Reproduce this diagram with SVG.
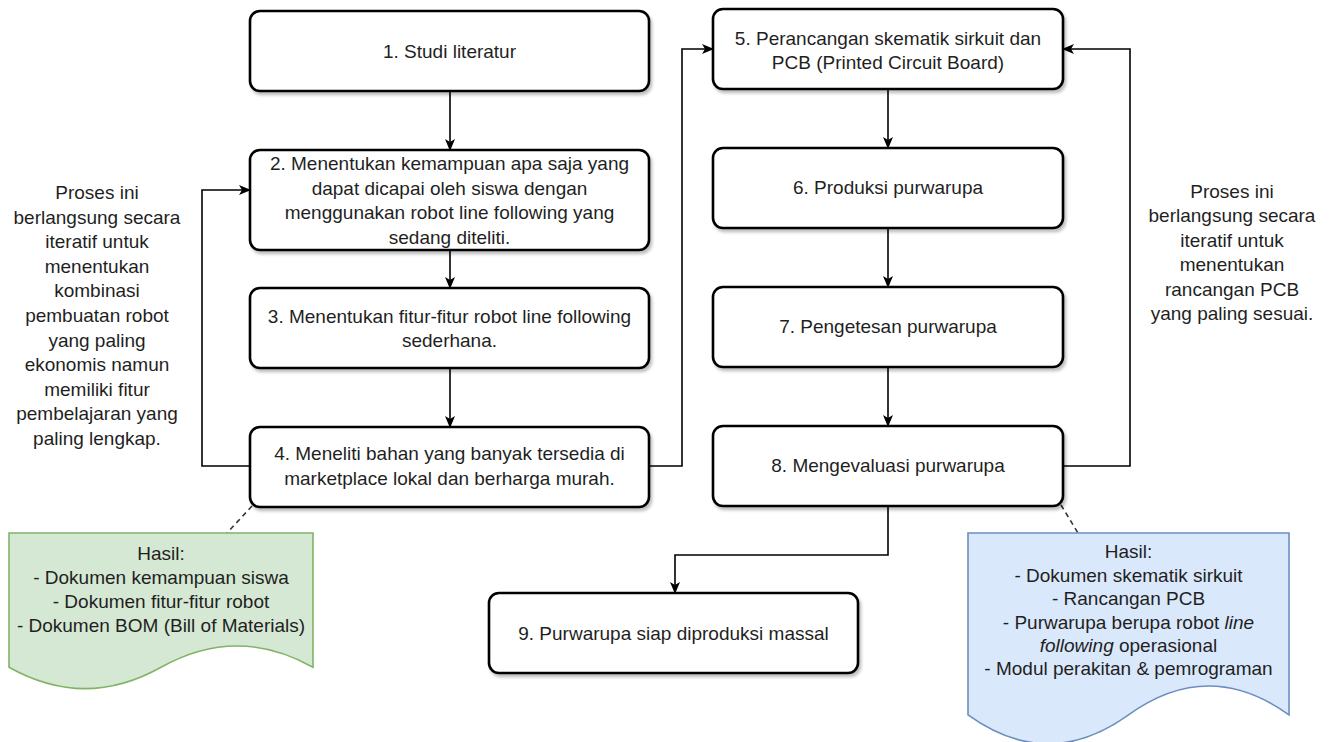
<svg xmlns="http://www.w3.org/2000/svg" width="1330" height="742" viewBox="0 0 1330 742">
<style>
.box{fill:#fff;stroke:#000;stroke-width:2.6}
.t{font-family:"Liberation Sans",Arial,sans-serif;font-size:19px;fill:#1f1f1f;text-anchor:middle}
.e{fill:none;stroke:#000;stroke-width:1.6}
.d{fill:none;stroke:#333;stroke-width:1.6;stroke-dasharray:5,4}
</style>
<defs>
<marker id="ar" viewBox="0 0 12 10" refX="11" refY="5" markerWidth="12" markerHeight="10" markerUnits="userSpaceOnUse" orient="auto">
<path d="M0,0 L12,5 L0,10 L3,5 z" fill="#000"/>
</marker>
<filter id="sh" x="-5%" y="-5%" width="115%" height="125%">
<feDropShadow dx="2" dy="3" stdDeviation="1.5" flood-color="#000" flood-opacity="0.25"/>
</filter>
</defs>
<rect width="1330" height="742" fill="#fff"/>

<g id="connectors">
<path class="e" d="M450,91 L450,150" marker-end="url(#ar)"/>
<path class="e" d="M450,250 L450,288" marker-end="url(#ar)"/>
<path class="e" d="M450,368 L450,427" marker-end="url(#ar)"/>
<path class="e" d="M250,466 L202,466 L202,190 L250,190" marker-end="url(#ar)"/>
<path class="e" d="M650,466 L682,466 L682,49 L713,49" marker-end="url(#ar)"/>
<path class="e" d="M888,89 L888,148" marker-end="url(#ar)"/>
<path class="e" d="M888,228 L888,287" marker-end="url(#ar)"/>
<path class="e" d="M888,367 L888,426" marker-end="url(#ar)"/>
<path class="e" d="M1063,466 L1130,466 L1130,49 L1063,49" marker-end="url(#ar)"/>
<path class="e" d="M888,506 L888,555 L675,555 L675,593" marker-end="url(#ar)"/>
<path class="d" d="M252,506 L227,533"/>
<path class="d" d="M1061,505 L1078,533"/>
</g>

<g id="n1"><rect class="box" filter="url(#sh)" x="250" y="11" width="399" height="80" rx="10"/>
<text class="t" x="449.5" y="58">1. Studi literatur</text></g>

<g id="n2"><rect class="box" filter="url(#sh)" x="250" y="150" width="399" height="100" rx="10"/>
<text class="t" x="449.5" y="170">2. Menentukan kemampuan apa saja yang</text>
<text class="t" x="449.5" y="195">dapat dicapai oleh siswa dengan</text>
<text class="t" x="449.5" y="219">menggunakan robot line following yang</text>
<text class="t" x="449.5" y="244">sedang diteliti.</text></g>

<g id="n3"><rect class="box" filter="url(#sh)" x="250" y="288" width="399" height="80" rx="10"/>
<text class="t" x="449.5" y="323">3. Menentukan fitur-fitur robot line following</text>
<text class="t" x="449.5" y="347">sederhana.</text></g>

<g id="n4"><rect class="box" filter="url(#sh)" x="250" y="427" width="399" height="80" rx="10"/>
<text class="t" x="449.5" y="460">4. Meneliti bahan yang banyak tersedia di</text>
<text class="t" x="449.5" y="485">marketplace lokal dan berharga murah.</text></g>

<g id="n5"><rect class="box" filter="url(#sh)" x="713" y="9" width="350" height="80" rx="10"/>
<text class="t" x="888" y="45">5. Perancangan skematik sirkuit dan</text>
<text class="t" x="888" y="69">PCB (Printed Circuit Board)</text></g>

<g id="n6"><rect class="box" filter="url(#sh)" x="713" y="148" width="350" height="80" rx="10"/>
<text class="t" x="888" y="194">6. Produksi purwarupa</text></g>

<g id="n7"><rect class="box" filter="url(#sh)" x="713" y="287" width="350" height="80" rx="10"/>
<text class="t" x="888" y="333">7. Pengetesan purwarupa</text></g>

<g id="n8"><rect class="box" filter="url(#sh)" x="713" y="426" width="350" height="80" rx="10"/>
<text class="t" x="888" y="472">8. Mengevaluasi purwarupa</text></g>

<g id="n9"><rect class="box" filter="url(#sh)" x="489" y="593" width="369" height="80" rx="10"/>
<text class="t" x="673.5" y="640">9. Purwarupa siap diproduksi massal</text></g>

<g id="note-left">
<text class="t" x="97" y="199">Proses ini</text>
<text class="t" x="97" y="223.6">berlangsung secara</text>
<text class="t" x="97" y="248.2">iteratif untuk</text>
<text class="t" x="97" y="272.8">menentukan</text>
<text class="t" x="97" y="297.4">kombinasi</text>
<text class="t" x="97" y="322">pembuatan robot</text>
<text class="t" x="97" y="346.6">yang paling</text>
<text class="t" x="97" y="371.2">ekonomis namun</text>
<text class="t" x="97" y="395.8">memiliki fitur</text>
<text class="t" x="97" y="420.4">pembelajaran yang</text>
<text class="t" x="97" y="445">paling lengkap.</text>
</g>

<g id="note-right">
<text class="t" x="1232" y="198">Proses ini</text>
<text class="t" x="1232" y="222.4">berlangsung secara</text>
<text class="t" x="1232" y="246.8">iteratif untuk</text>
<text class="t" x="1232" y="271.2">menentukan</text>
<text class="t" x="1232" y="295.6">rancangan PCB</text>
<text class="t" x="1232" y="320">yang paling sesuai.</text>
</g>

<g id="doc-green">
<path d="M9,533 L313,533 L313,667.3 Q237,624.6 161,667.3 Q85,710 9,667.3 Z" fill="#d5e8d4" stroke="#82b366" stroke-width="1.6"/>
<text class="t" x="161" y="560">Hasil:</text>
<text class="t" x="161" y="584">- Dokumen kemampuan siswa</text>
<text class="t" x="161" y="608">- Dokumen fitur-fitur robot</text>
<text class="t" x="161" y="632">- Dokumen BOM (Bill of Materials)</text>
</g>

<g id="doc-blue">
<path d="M968,533 L1289,533 L1289,714.9 Q1208.75,657.1 1128.5,714.9 Q1048.25,772.7 968,714.9 Z" fill="#dae8fc" stroke="#6c8ebf" stroke-width="1.6"/>
<text class="t" x="1128.5" y="558">Hasil:</text>
<text class="t" x="1128.5" y="582">- Dokumen skematik sirkuit</text>
<text class="t" x="1128.5" y="605">- Rancangan PCB</text>
<text class="t" x="1128.5" y="629">- Purwarupa berupa robot <tspan font-style="italic">line</tspan></text>
<text class="t" x="1128.5" y="652"><tspan font-style="italic">following</tspan> operasional</text>
<text class="t" x="1128.5" y="675">- Modul perakitan &amp; pemrograman</text>
</g>
</svg>
